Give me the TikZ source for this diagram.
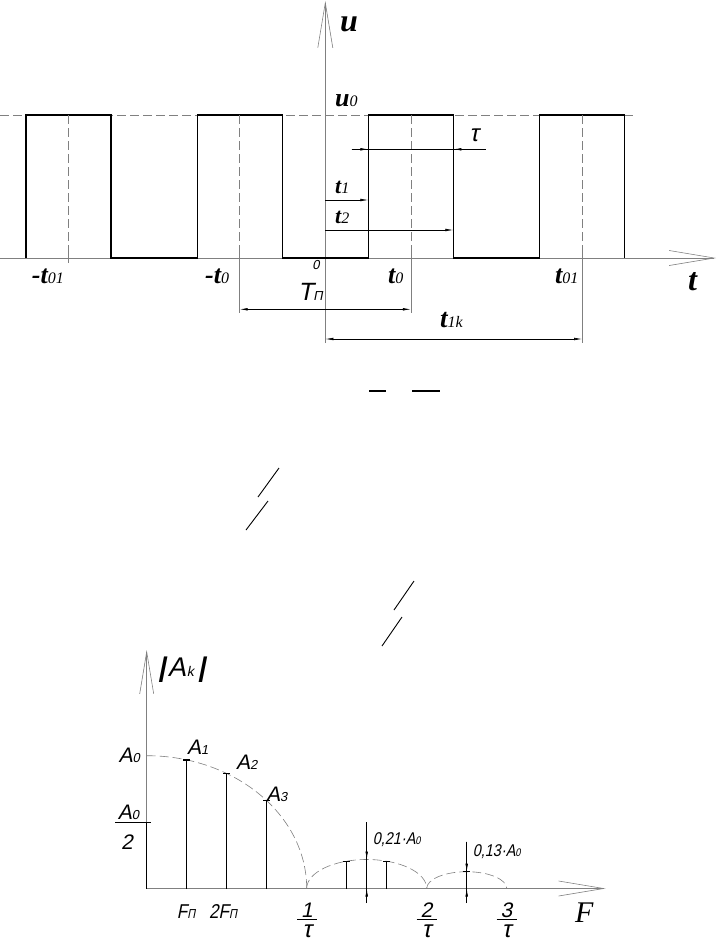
\documentclass[tikz,border=0pt]{standalone}
\usepackage{fontspec}
\setmainfont{Liberation Serif}
\newfontfamily\gost[FakeSlant=0.2]{Liberation Sans}
\newfontfamily\gostn[FakeSlant=0.2,FakeStretch=0.85]{Liberation Sans}
\usetikzlibrary{arrows.meta}
\newcommand{\capw}{3.5}
\newcommand{\tlab}[2]{{\bfseries\itshape #1}{\fontsize{16}{16}\selectfont\itshape #2}}
\newcommand{\glab}[2]{#1{\fontsize{13}{13}\selectfont #2}}

\begin{document}
\begin{tikzpicture}[x=1pt,y=-1pt,
    every node/.style={inner sep=0pt},
    axis/.style={draw=gray, line width=.6pt, -{Straight Barb[length=45pt,width=15pt]}},
    ext/.style={draw=gray, line width=.6pt},
    centre/.style={draw=gray, line width=.6pt, dash pattern=on 9pt off 4pt},
    wave/.style={line width=1.4pt},
    bar/.style={line width=1.4pt},
    dim/.style={line width=.6pt, -{Latex[length=8pt,width=2.6pt]}},
    dimboth/.style={line width=.6pt, {Latex[length=8pt,width=2.6pt]}-{Latex[length=8pt,width=2.6pt]}},
    tl/.style={anchor=west, font=\fontsize{26}{26}\selectfont},
    gl/.style={anchor=west, font=\gost\fontsize{21}{21}\selectfont}]
\useasboundingbox (0,0) rectangle (718,950);

        % time diagram
        \coordinate (tL) at (0,258);
        \coordinate (tR) at (716,258);
        \coordinate (uB) at (325.3,343);
        \coordinate (uT) at (325.3,1);
        \draw[axis] (tL) -- (tR);
        \draw[axis] (uB) -- (uT);
        \coordinate (u0L) at (0,115);
        \coordinate (u0R) at (636,115);
        \draw[centre] (u0L) -- (u0R);

        \draw[wave] (26,258) |- (111,115) |- (197.2,258) |- (282.2,115) |- (368.4,258)
        |- (453.4,115) |- (539.6,258) |- (624.6,115) -- (624.6,258);

        \foreach \c/\e in {68.5/263, 239.7/313, 410.9/313, 582.1/343} {
          \draw[centre] (\c,115) -- (\c,253);
          \draw[ext] (\c,253) -- (\c,\e);
        }

        \coordinate (TPl) at (239.7,309.3);
        \coordinate (TPr) at (410.9,309.3);
        \draw[dimboth] (TPl) -- (TPr);
        \coordinate (tkl) at (325.3,339);
        \coordinate (tkr) at (582.1,339);
        \draw[dimboth] (tkl) -- (tkr);
        \draw[dim] (325.3,200) -- (368.4,200);
        \draw[dim] (325.3,230) -- (453.4,230);
        \coordinate (taul) at (351.7,149.3);
        \coordinate (taur) at (485.7,149.3);
        \draw[line width=.6pt] (taul) -- (taur);
        \draw[dim] (taul) -- (368.4,149.3);
        \draw[dim] (taur) -- (453.4,149.3);

        \node[tl] (lu) at (340,24) {\fontsize{32}{32}\selectfont\bfseries\itshape u};
        \node[tl] (lu0) at (335,101) {\tlab{u}{0}};
        \node[tl] (lmt01) at (31.7,276) {\tlab{-t}{01}};
        \node[tl] (lmt0) at (205,276) {\tlab{-t}{0}};
        \node[tl] (lt0) at (388,276) {\tlab{t}{0}};
        \node[tl] (lt01) at (555,276) {\tlab{t}{01}};
        \node[tl] (lt) at (688,282) {\fontsize{32}{32}\selectfont\bfseries\itshape t};
        \node[tl, font=\fontsize{22}{22}\selectfont] (lt1) at (335,187) {\tlab{t}{1}};
        \node[tl, font=\fontsize{22}{22}\selectfont] (lt2) at (335,217) {\tlab{t}{2}};
        \node[tl, font=\fontsize{27}{27}\selectfont] (lt1k) at (440,320) {\tlab{t}{1k}};
        \node[gl, anchor=center, font=\gost\fontsize{24}{24}\selectfont] (ltau) at (474,135) {τ};
        \node[gl, font=\gost\fontsize{25}{25}\selectfont] (lTP) at (298,292) {\glab{T}{П}};
        \node[gl, anchor=center, font=\gost\fontsize{13}{13}\selectfont] (lO) at (316,265) {0};

        % leftovers of the formulas
        \draw[line width=1.2pt] (369,391) -- (386,391) (412,391) -- (440,391);
        \draw[line width=.9pt] (279,468) -- (258,497) (268,501) -- (246,530)
        (414,581) -- (394,610) (402,617) -- (382,646);

        % spectrum
        \coordinate (S) at (146.7,888.5);
        \coordinate (ST) at (146.7,650);
        \coordinate (SR) at (605.5,888.5);
        \draw[axis, -{Straight Barb[length=42pt,width=14pt]}] (S) -- (ST);
        \draw[axis, -{Straight Barb[length=45pt,width=15pt]}] (S) -- (SR);

        \draw[centre] (146.7,755.7) arc[start angle=-90, end angle=0, x radius=160, y radius=132.8];
        \draw[centre] (306.7,888.5) arc[start angle=180, end angle=360, x radius=60, y radius=29];
        \draw[centre] (426.7,888.5) arc[start angle=180, end angle=360, x radius=40, y radius=16.8];

        \draw[bar] (S) -- (146.7,822.7) +(-4.5,0) -- +(4.5,0);
        \foreach \k/\h in {1/759.9, 2/773.5, 3/800.7, 5/861.2, 6/861.2, 8/871.7}
          \draw[bar] ({146.7+40*\k},888.5) -- ({146.7+40*\k},\h) +(-\capw,0) -- +(\capw,0);

        \coordinate (p21t) at (366.7,822);
        \coordinate (p21b) at (366.7,903);
        \draw[line width=.6pt] (p21t) -- (p21b);
        \draw[dim] (p21t) -- (366.7,859.5);
        \draw[dim] (p21b) -- (366.7,888.5);
        \coordinate (p13t) at (466.7,841.7);
        \coordinate (p13b) at (466.7,903);
        \draw[line width=.6pt] (p13t) -- (p13b);
        \draw[dim] (p13t) -- (466.7,871.7);
        \draw[dim] (p13b) -- (466.7,888.5);

        \node[gl, font=\gost\fontsize{27}{27}\selectfont] (lAk) at (158,670) {{\bfseries|}\kern2pt A\kern1pt{\fontsize{14}{14}\selectfont k}\kern4pt{\bfseries|}};
        \node[gl, anchor=east] (lA0) at (140,755) {\glab{A}{0}};
        \node[gl] (lA1) at (187,747) {\glab{A}{1}};
        \node[gl] (lA2) at (236,762) {\glab{A}{2}};
        \node[gl] (lA3) at (266,794) {\glab{A}{3}};
        \node[gl, anchor=center] (lhn) at (128.5,812.7) {\glab{A}{0}};
        \draw[line width=.6pt] (115,822.7) -- (142.7,822.7);
        \node[gl, anchor=center] (lhd) at (127,841.7) {2};
        \node[gl, font=\gostn\fontsize{20}{20}\selectfont] (lF1) at (176.7,911.7) {\glab{F}{П}};
        \node[gl, font=\gostn\fontsize{20}{20}\selectfont] (lF2) at (209,911.7) {\glab{2F}{П}};
        \foreach \x/\n in {307/1, 426.5/2, 506.5/3} {
          \node[gl, anchor=center] (num\n) at (\x,910.5) {\n};
          \draw[line width=.6pt] (\x-10,919) -- (\x+10,919);
          \node[gl, anchor=center, font=\gost\fontsize{24}{24}\selectfont] (den\n) at (\x,931) {τ};
        }
        \node[gl, font=\gostn\fontsize{17}{17}\selectfont] (l021) at (372.7,840) {0,21·A{\fontsize{11}{11}\selectfont 0}};
        \node[gl, font=\gostn\fontsize{17}{17}\selectfont] (l013) at (472.7,852) {0,13·A{\fontsize{11}{11}\selectfont 0}};
        \node[tl, font=\fontsize{30}{30}\selectfont\itshape] (lF) at (575,913) {F};
\end{tikzpicture}
\end{document}
